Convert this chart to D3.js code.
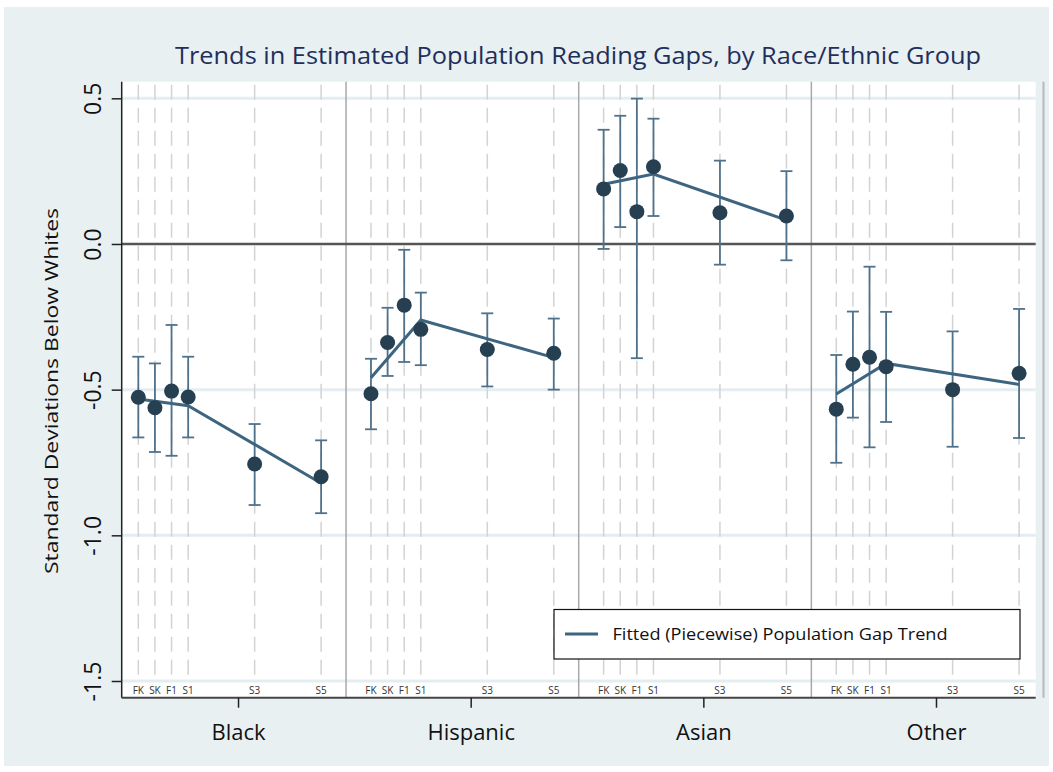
<!DOCTYPE html>
<html>
<head>
    <meta charset="utf-8"/>
    <title>Trends in Estimated Population Reading Gaps</title>
    <script src="https://d3js.org/d3.v7.min.js"></script>
</head>
<style>
    body { margin: 0; background: #ffffff; }
    text { font-family: "Open Sans", "DejaVu Sans", sans-serif; }
</style>
<body>

<svg id="chart" width="1053" height="772"></svg>

<script type="text/javascript">

    // data
    var groups = ["Black", "Hispanic", "Asian", "Other"];
    var groupStart = [0, 14, 28, 42];          // time-axis offset of each panel
    var waves = ["FK", "SK", "F1", "S1", "S3", "S5"];
    var waveTimes = [0, 1, 2, 3, 7, 11];       // half-years since fall K

    var blackEst   = [-0.526, -0.562, -0.505, -0.525, -0.755, -0.799];
    var blackLow   = [-0.664, -0.714, -0.727, -0.664, -0.896, -0.924];
    var blackHigh  = [-0.387, -0.410, -0.278, -0.387, -0.618, -0.674];

    var hispEst    = [-0.514, -0.338, -0.210, -0.293, -0.362, -0.375];
    var hispLow    = [-0.636, -0.453, -0.405, -0.416, -0.489, -0.500];
    var hispHigh   = [-0.394, -0.219, -0.020, -0.167, -0.238, -0.256];

    var asianEst   = [0.189, 0.252, 0.111, 0.265, 0.107, 0.096];
    var asianLow   = [-0.017, 0.058, -0.392, 0.096, -0.071, -0.056];
    var asianHigh  = [0.392, 0.440, 0.499, 0.430, 0.286, 0.250];

    var otherEst   = [-0.567, -0.413, -0.389, -0.421, -0.500, -0.444];
    var otherLow   = [-0.751, -0.596, -0.698, -0.611, -0.696, -0.666];
    var otherHigh  = [-0.381, -0.232, -0.078, -0.233, -0.300, -0.223];

    // fitted piecewise trend at FK, S1, S5
    var fitWaves = [0, 3, 5];
    var blackFit = [-0.532, -0.555, -0.821];
    var hispFit  = [-0.459, -0.261, -0.390];
    var asianFit = [0.205, 0.240, 0.082];
    var otherFit = [-0.515, -0.410, -0.482];

    var yTicks = [0.5, 0, -0.5, -1, -1.5];
    var panelBreaks = [12.5, 26.5, 40.5];
    var groupCenters = [6, 20, 34, 48];

    var est = [blackEst, hispEst, asianEst, otherEst];
    var low = [blackLow, hispLow, asianLow, otherLow];
    var high = [blackHigh, hispHigh, asianHigh, otherHigh];
    var fits = [blackFit, hispFit, asianFit, otherFit];

    var points = [];
    groups.forEach(function (g, gi) {
        waves.forEach(function (w, wi) {
            points.push({group: g, wave: w, t: groupStart[gi] + waveTimes[wi],
                est: est[gi][wi], low: low[gi][wi], high: high[gi][wi]});
        });
    });

    // layout
    var plotLeft = 121.7, plotRight = 1035.7, plotTop = 81.7, plotBottom = 697.7;
    var x = d3.scaleLinear().domain([-1, 54]).range([plotLeft, plotRight]);
    var y = d3.scaleLinear().domain([-1.5, 0.5]).range([681, 98.3]);

    var svg = d3.select("#chart");

    svg.append("rect").attr("x", 4).attr("y", 7).attr("width", 1045).attr("height", 759)
            .attr("fill", "#e8f0f2");
    svg.append("rect").attr("x", plotLeft).attr("y", plotTop)
            .attr("width", plotRight - plotLeft).attr("height", plotBottom - plotTop)
            .attr("fill", "white");
    svg.append("line").attr("x1", 1043.5).attr("x2", 1043.5).attr("y1", plotTop).attr("y2", plotBottom)
            .attr("stroke", "#b4b9bc").attr("stroke-width", 2);

    // gridlines
    svg.selectAll(".grid").data(yTicks.filter(function (d) { return d !== 0; }))
            .enter().append("line").attr("class", "grid")
            .attr("x1", plotLeft).attr("x2", plotRight)
            .attr("y1", function (d) { return y(d); }).attr("y2", function (d) { return y(d); })
            .attr("stroke", "#e4edf0").attr("stroke-width", 3);

    // dashed wave lines
    svg.selectAll(".wave-line").data(points)
            .enter().append("line").attr("class", "wave-line")
            .attr("x1", function (d) { return x(d.t); }).attr("x2", function (d) { return x(d.t); })
            .attr("y1", plotTop + 3).attr("y2", 676)
            .attr("stroke", "#d3d3d3").attr("stroke-width", 1.5)
            .attr("stroke-dasharray", "15,8");

    // wave labels
    svg.selectAll(".wave-label").data(points)
            .enter().append("text").attr("class", "wave-label")
            .attr("x", function (d) { return x(d.t); }).attr("y", 694)
            .attr("text-anchor", "middle").attr("font-size", 10).attr("fill", "#333")
            .text(function (d) { return d.wave; });

    // panel separators
    svg.selectAll(".sep").data(panelBreaks)
            .enter().append("line").attr("class", "sep")
            .attr("x1", function (d) { return x(d); }).attr("x2", function (d) { return x(d); })
            .attr("y1", plotTop).attr("y2", plotBottom)
            .attr("stroke", "#a8a8a8").attr("stroke-width", 1.5);

    // zero line
    svg.append("line").attr("x1", plotLeft).attr("x2", plotRight)
            .attr("y1", y(0)).attr("y2", y(0))
            .attr("stroke", "#555").attr("stroke-width", 2.5);

    // error bars
    var bars = svg.append("g").attr("stroke", "#4f728c").attr("stroke-width", 1.8);
    points.forEach(function (d) {
        bars.append("line").attr("x1", x(d.t)).attr("x2", x(d.t))
                .attr("y1", y(d.low)).attr("y2", y(d.high));
        [d.low, d.high].forEach(function (v) {
            bars.append("line").attr("x1", x(d.t) - 6).attr("x2", x(d.t) + 6)
                    .attr("y1", y(v)).attr("y2", y(v));
        });
    });

    // fitted lines
    var line = d3.line()
            .x(function (d) { return x(d[0]); })
            .y(function (d) { return y(d[1]); });
    groups.forEach(function (g, gi) {
        var pts = fitWaves.map(function (wi, k) {
            return [groupStart[gi] + waveTimes[wi], fits[gi][k]];
        });
        svg.append("path").attr("d", line(pts))
                .attr("fill", "none").attr("stroke", "#3e6580").attr("stroke-width", 3);
    });

    // estimates
    svg.selectAll(".dot").data(points)
            .enter().append("circle").attr("class", "dot")
            .attr("cx", function (d) { return x(d.t); })
            .attr("cy", function (d) { return y(d.est); })
            .attr("r", 7.5).attr("fill", "#263f51");

    // y axis
    var yAxis = d3.axisLeft(y).tickValues(yTicks).tickSize(10)
            .tickFormat(function (d) { return d.toFixed(1); });
    var gy = svg.append("g").attr("transform", "translate(" + plotLeft + ",0)").call(yAxis);
    gy.select(".domain").attr("d", "M0," + plotTop + "V" + plotBottom)
            .attr("stroke", "#222").attr("stroke-width", 1.5);
    gy.selectAll(".tick line").attr("stroke", "#222").attr("stroke-width", 1.5);
    gy.selectAll(".tick text")
            .attr("transform", "rotate(-90)")
            .attr("x", 0).attr("y", -21).attr("dy", 0)
            .attr("text-anchor", "middle")
            .attr("font-size", 23).attr("fill", "#111")
            .attr("font-family", "'Open Sans', 'DejaVu Sans', sans-serif");

    // x axis (groups)
    var xAxis = d3.axisBottom(x).tickValues(groupCenters).tickSize(10)
            .tickFormat(function (d, i) { return groups[i]; });
    var gx = svg.append("g").attr("transform", "translate(0," + plotBottom + ")").call(xAxis);
    gx.select(".domain").attr("d", "M" + plotLeft + ",0H" + plotRight)
            .attr("stroke", "#444").attr("stroke-width", 2);
    gx.selectAll(".tick line").attr("stroke", "#222").attr("stroke-width", 1.5);
    gx.selectAll(".tick text")
            .attr("y", 42).attr("dy", 0)
            .attr("font-size", 22).attr("fill", "#111")
            .attr("font-family", "'Open Sans', 'DejaVu Sans', sans-serif");

    // y axis title
    svg.append("text")
            .attr("transform", "translate(58,391) rotate(-90)")
            .attr("text-anchor", "middle").attr("font-size", 19).attr("fill", "#111")
            .attr("textLength", 366).attr("lengthAdjust", "spacingAndGlyphs")
            .text("Standard Deviations Below Whites");

    // title
    svg.append("text")
            .attr("x", 578).attr("y", 64)
            .attr("text-anchor", "middle").attr("font-size", 24).attr("fill", "#1f2f5c")
            .attr("textLength", 806).attr("lengthAdjust", "spacingAndGlyphs")
            .text("Trends in Estimated Population Reading Gaps, by Race/Ethnic Group");

    // legend
    var legend = svg.append("g");
    legend.append("rect").attr("x", 554).attr("y", 609.5).attr("width", 466).attr("height", 49.5)
            .attr("fill", "white").attr("stroke", "#111").attr("stroke-width", 1.2);
    legend.append("line").attr("x1", 565).attr("x2", 598).attr("y1", 634).attr("y2", 634)
            .attr("stroke", "#3e6580").attr("stroke-width", 3);
    legend.append("text").attr("x", 612.5).attr("y", 640)
            .attr("font-size", 16).attr("fill", "#111")
            .attr("textLength", 335).attr("lengthAdjust", "spacingAndGlyphs")
            .text("Fitted (Piecewise) Population Gap Trend");

</script>
</body>
</html>
